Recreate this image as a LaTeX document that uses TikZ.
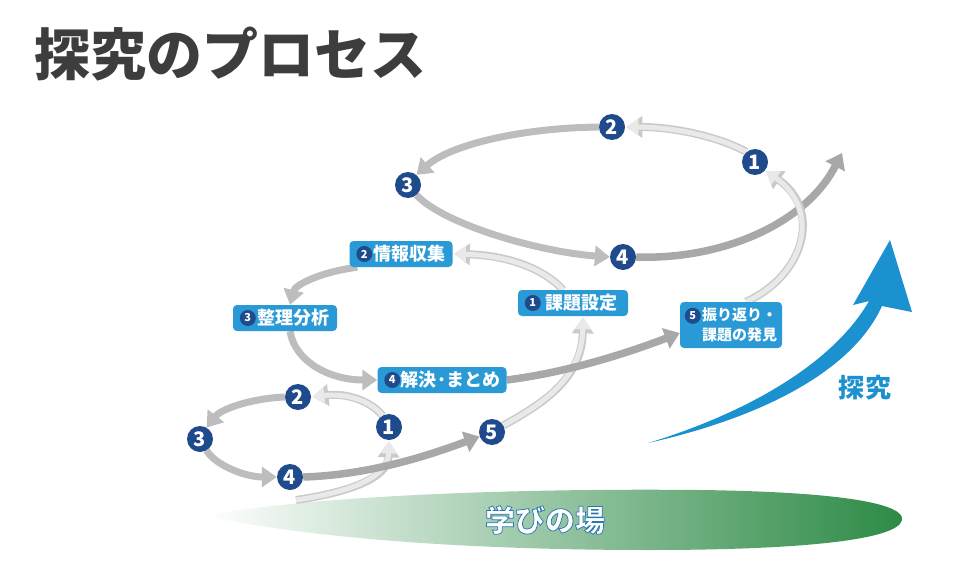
\documentclass[tikz,border=0pt]{standalone}
\usepackage{fontspec}
\newfontfamily\jp{Noto Sans CJK JP}
\newfontfamily\jpfb{Noto Sans CJK JP}[BoldFeatures={FakeBold=2.5}]
\usetikzlibrary{arrows.meta,shapes.geometric,calc}
\definecolor{navy}{HTML}{1F4A8C}
\definecolor{boxblue}{HTML}{2A9AD6}
\definecolor{arrowblue}{HTML}{1C91D0}
\definecolor{titlegray}{HTML}{3D3D3D}
\definecolor{gdark}{HTML}{A8A8A8}
\definecolor{gmid}{HTML}{BDBDBD}
\definecolor{glight}{HTML}{E9E9E9}
\definecolor{gedge}{HTML}{CACACA}
\definecolor{leaf}{HTML}{2C8A45}
\pgfdeclarelayer{bg}
\pgfdeclarelayer{arr}
\pgfsetlayers{bg,arr,main}
\begin{document}
\begin{tikzpicture}[x=1pt,y=-1pt,
  num/.style={circle,fill=navy,text=white,minimum size=26pt,inner sep=0pt,font=\jp\bfseries\fontsize{20}{20}\selectfont},
  boxnode/.style={rounded corners=4pt,fill=boxblue,text=white,inner xsep=5pt,inner ysep=2pt,minimum height=26pt,font=\jp\bfseries\fontsize{18}{19}\selectfont},
  smallnum/.style={circle,fill=navy,text=white,minimum size=16pt,inner sep=0pt,font=\jp\bfseries\fontsize{11}{11}\selectfont},
  darkarrow/.style={draw=gdark,line width=7.5pt,-{Triangle[width=21pt,length=15pt]}},
  midarrow/.style={draw=gmid,line width=7pt,-{Triangle[width=20pt,length=15pt]}},
  lightarrow/.style={preaction={draw=gedge,line width=8pt,-{Triangle[width=21pt,length=16pt]}},
     draw=glight,line width=5pt,shorten >=1.2pt,-{Triangle[width=16pt,length=12pt]}}
]
\useasboundingbox (0,0) rectangle (956,573);

% title
\node[anchor=west,inner sep=0pt,text=titlegray,font=\jp\bfseries\fontsize{56}{56}\selectfont] (title) at (34,54) {探究のプロセス};

% green field
\begin{pgfonlayer}{bg}
\shade[left color=white,middle color=leaf!88!white,right color=leaf]
  (205,516) .. controls (300,497) and (500,488) .. (700,490)
  .. controls (850,492) and (905,505) .. (902,520)
  .. controls (898,540) and (800,550) .. (650,550)
  .. controls (450,550) and (300,536) .. (205,516) -- cycle;
\end{pgfonlayer}
\node[text=white,font=\jpfb\bfseries\fontsize{30}{30}\selectfont] (field) at (545,520)
  {\special{pdf:literal direct 0.16 0.47 0.69 RG}学びの場};

% blue swoosh
\fill[arrowblue] (648,443) .. controls (760,418) and (852,372) .. (882,306)
  -- (912,312) -- (890,240) -- (853,305) -- (869,301)
  .. controls (834,362) and (750,412) .. (648,443) -- cycle;
\node[text=arrowblue,font=\jp\bfseries\fontsize{26}{26}\selectfont] (tankyu) at (865,388) {探\hspace{2pt}究};

% positions
\coordinate (t0) at (296,500);
\coordinate (endtip) at (842,153);

\node[num] (s1) at (389,427) {1};
\node[num] (s2) at (298,397) {2};
\node[num] (s3) at (200,439) {3};
\node[num] (s4) at (290,477) {4};
\node[num] (s5) at (492,432) {5};
\node[num] (u1) at (755,162) {1};
\node[num] (u2) at (612,127) {2};
\node[num] (u3) at (408,185) {3};
\node[num] (u4) at (623,257) {4};

\node[boxnode,minimum width=110pt] (b1) at (573,303) {\hspace{17pt}課題設定};
\node[boxnode,minimum width=103pt] (b2) at (401,254) {\hspace{17pt}情報収集};
\node[boxnode,minimum width=104pt] (b3) at (285,318) {\hspace{17pt}整理分析};
\node[boxnode,minimum width=129pt] (b4) at (442,380) {\hspace{17pt}解決·まとめ};
\node[boxnode,minimum width=102pt,minimum height=46pt,align=left,font=\jp\bfseries\fontsize{15}{20}\selectfont] (b5) at (731,325) {\hspace{17pt}振り返り・\\\hspace{17pt}課題の発見};

\node[smallnum] (c1) at ([xshift=15pt]b1.west) {1};
\node[smallnum] (c2) at ([xshift=15pt]b2.west) {2};
\node[smallnum] (c3) at ([xshift=15pt]b3.west) {3};
\node[smallnum] (c4) at ([xshift=15pt]b4.west) {4};
\node[smallnum] (c5) at ([xshift=13pt,yshift=-14pt]b5.north west) {5};

% arrows
\begin{pgfonlayer}{arr}
% small loop
\draw[lightarrow] (t0) .. controls (350,492) and (388,478) .. (s1.south);
\draw[lightarrow] (s1.120) .. controls (370,400) and (345,393) .. (s2.east);
\draw[midarrow] (s2.west) .. controls (255,398) and (222,408) .. (s3.60);
\draw[midarrow] (s3.-60) .. controls (215,465) and (245,477) .. (s4.west);
\draw[darkarrow] (s4.east) .. controls (370,475) and (430,455) .. (s5.200);
\draw[lightarrow] (s5.30) .. controls (540,405) and (582,380) .. ([xshift=10pt]b1.south);
% middle loop
\draw[lightarrow] ([xshift=-10pt]b1.north) .. controls (540,265) and (500,255) .. (b2.east);
\draw[midarrow] ([xshift=8pt]b2.south west) .. controls (320,272) and (295,285) .. ([xshift=5pt]b3.north);
\draw[midarrow] ([xshift=5pt]b3.south) .. controls (295,362) and (330,380) .. (b4.west);
\draw[darkarrow] (b4.east) .. controls (570,372) and (630,352) .. ([yshift=-8pt]b5.west);
% upper loop
\draw[lightarrow] (u1.130) .. controls (715,135) and (670,127) .. (u2.east);
\draw[midarrow] (u2.west) .. controls (520,128) and (450,145) .. (u3.50);
\draw[midarrow] (u3.-50) .. controls (445,225) and (540,252) .. (u4.west);
\draw[darkarrow] (u4.east) .. controls (720,260) and (805,225) .. (endtip);
\draw[lightarrow] ([xshift=15pt]b5.north) .. controls (805,275) and (822,210) .. (u1.-40);
\end{pgfonlayer}
\end{tikzpicture}
\end{document}
